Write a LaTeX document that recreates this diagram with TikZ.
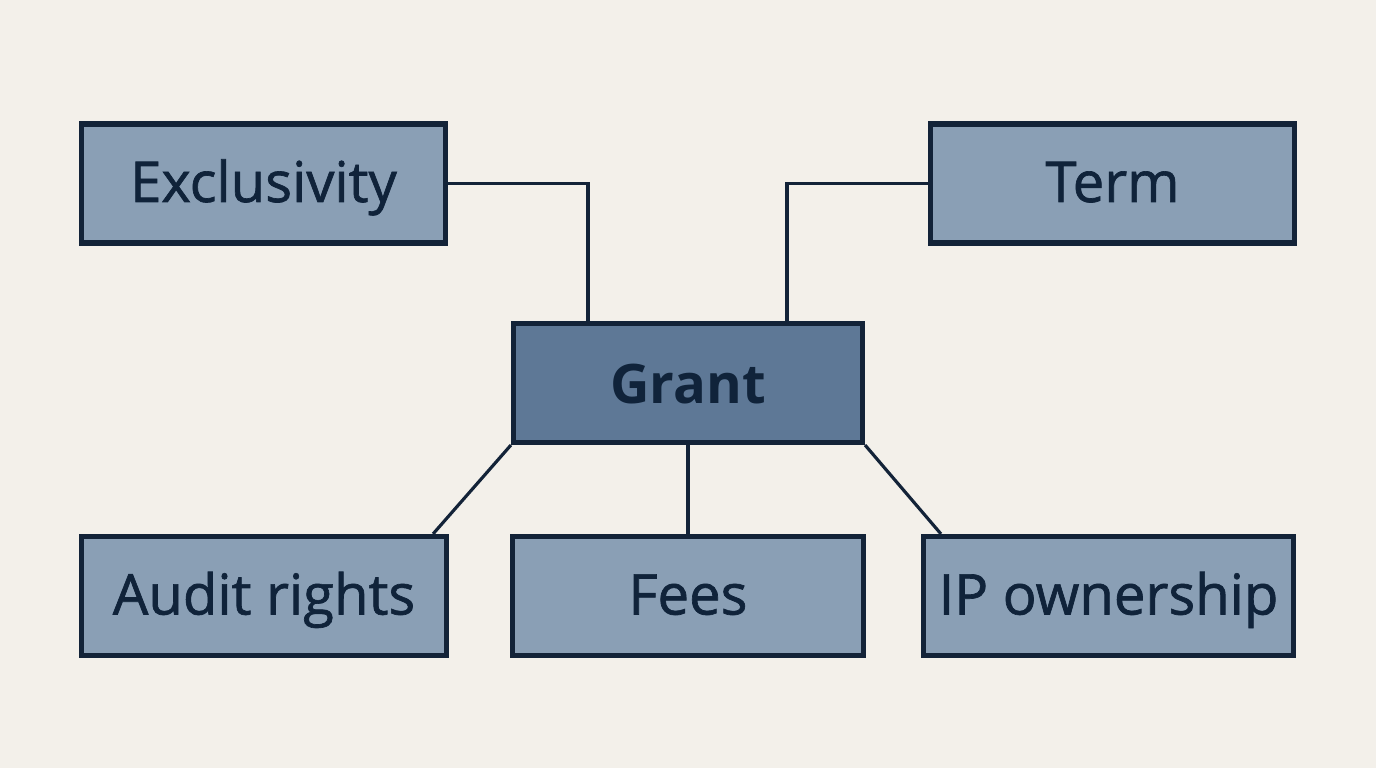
\documentclass[tikz,border=0pt]{standalone}
\usepackage{fontspec}
\setmainfont{Open Sans}
\usetikzlibrary{calc}
\definecolor{bg}{HTML}{F3F0EA}
\definecolor{boxfill}{HTML}{8A9FB5}
\definecolor{grantfill}{HTML}{5E7896}
\definecolor{edge}{HTML}{132338}
\definecolor{ink}{HTML}{10233A}
\tikzset{
  item/.style={draw=edge, line width=1.45pt, fill=boxfill, minimum height=1.19cm,
    inner sep=0pt, text=ink, text height=0.37cm, text depth=0cm,
    font=\fontsize{16}{19}\selectfont\addfontfeature{FakeBold=1.2}},
  hub/.style={item, fill=grantfill, text height=0.41cm,
    font=\fontsize{15.5}{19}\selectfont\bfseries},
  link/.style={draw=edge, line width=0.9pt}
}
\begin{document}
\begin{tikzpicture}
\fill[bg] (0,0) rectangle (13.76,7.68);
\useasboundingbox (0,0) rectangle (13.76,7.68);
\node[item, minimum width=3.64cm] (excl) at (2.635,5.845) {Exclusivity};
\node[item, minimum width=3.64cm] (term) at (11.125,5.845) {Term};
\node[hub, minimum width=3.49cm] (grant) at (6.88,3.85) {Grant};
\node[item, minimum width=3.65cm] (audit) at (2.64,1.72) {Audit rights};
\node[item, minimum width=3.51cm] (fees) at (6.88,1.72) {Fees};
\node[item, minimum width=3.70cm] (ip) at (11.085,1.72) {IP ownership};
\coordinate (ae) at ([xshift=-0.16cm]audit.north east);
\coordinate (iw) at ([xshift=0.20cm]ip.north west);
\draw[link] (excl.east) -| ([xshift=-1.0cm]grant.north);
\draw[link] (term.west) -| ([xshift=0.99cm]grant.north);
\draw[link] (grant.south west) -- (ae);
\draw[link] (grant.south) -- (fees.north);
\draw[link] (grant.south east) -- (iw);
\end{tikzpicture}
\end{document}
